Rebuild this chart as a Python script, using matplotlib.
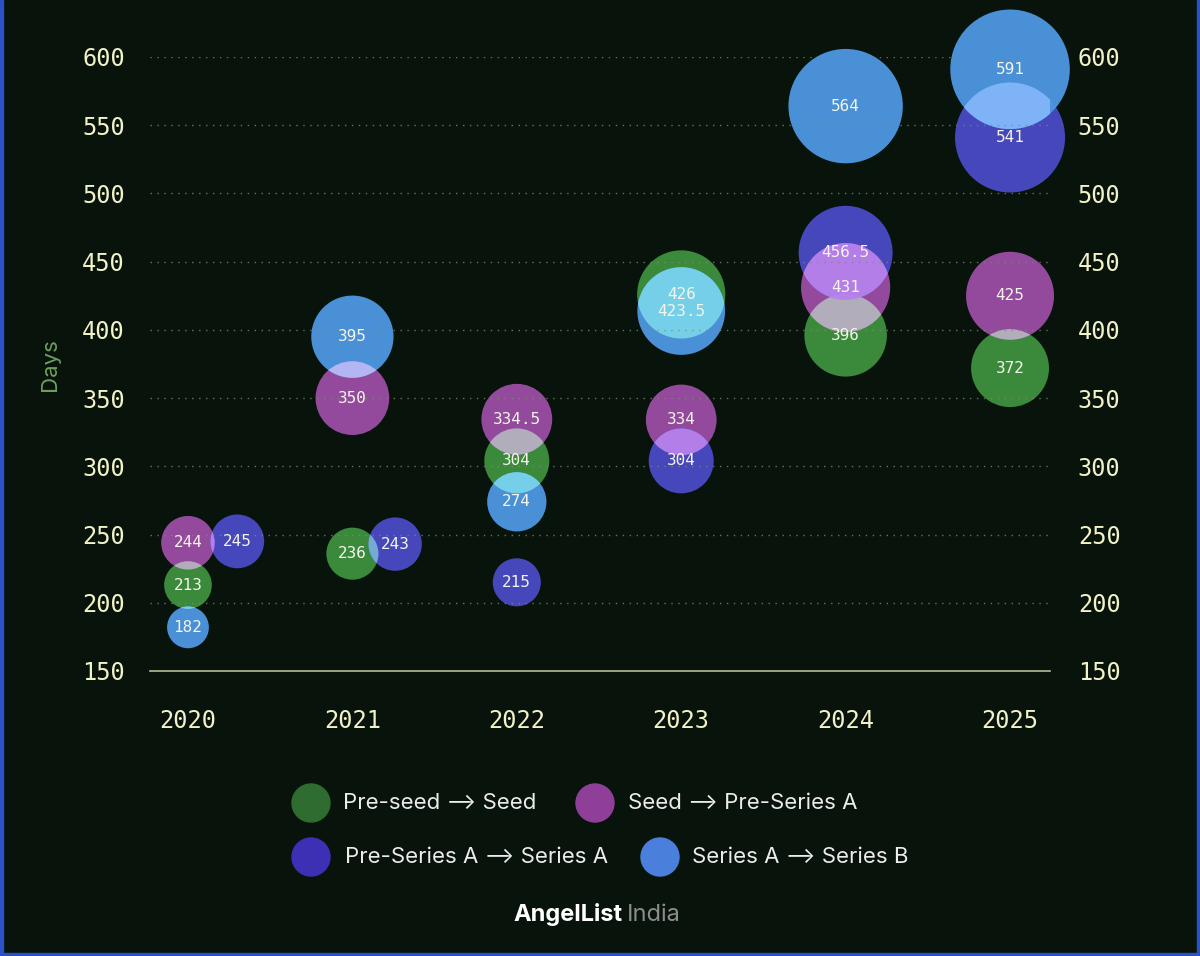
import matplotlib.pyplot as plt
from matplotlib.patches import Circle, Ellipse, Rectangle
from matplotlib.transforms import ScaledTranslation
from matplotlib.colors import to_rgb

years = ["2020", "2021", "2022", "2023", "2024", "2025"]

series_names = [
    "Pre-seed \u27f6 Seed",
    "Seed \u27f6 Pre-Series A",
    "Pre-Series A \u27f6 Series A",
    "Series A \u27f6 Series B",
]
preseed_seed = [213, 236, 304, 426, 396, 372]
seed_pre_a = [244, 350, 334.5, 334, 431, 425]
pre_a_a = [245, 243, 215, 304, 456.5, 541]
a_b = [182, 395, 274, 423.5, 564, 591]
series_values = [preseed_seed, seed_pre_a, pre_a_a, a_b]

y_ticks = [150, 200, 250, 300, 350, 400, 450, 500, 550, 600]

bubble_colors = ["#3e913f", "#9c4ea6", "#4a4ac6", "#4e98e2"]
legend_colors = ["#2f6c2f", "#8f3f98", "#3d30b4", "#4a80dc"]

# horizontal nudges (year units) and vertical nudges (points) so bubbles don't stack exactly
x_nudge = {(2, 0): 0.30, (2, 1): 0.26}
y_nudge = {(3, 3): -9.5}

bg = "#08130b"
tick_color = "#f2f2c8"
mono = ["DejaVu Sans Mono"]
sans = ["Inter", "DejaVu Sans"]

fig = plt.figure(figsize=(12, 9.56), dpi=100, facecolor=bg)
ax = fig.add_axes([0.125, 1 - 671 / 956, 0.75, (671 - 57) / 956])
ax.set_facecolor(bg)
ax.set_xlim(-0.231, 5.243)
ax.set_ylim(150, 600)


def bubble(x, v, dy=0, **kw):
    # radius in inches, centred on the data point (dy in points)
    r_in = (v + 38) * 0.095 / 100
    tr = fig.dpi_scale_trans + ScaledTranslation(x, v, ax.transData)
    return Circle((0, dy / 72), r_in, transform=tr, **kw)


def screen(c1, c2):
    a, b = to_rgb(c1), to_rgb(c2)
    return tuple(1 - (1 - p) * (1 - q) for p, q in zip(a, b))


for i in range(len(years)):
    pts = []
    for si, vals in enumerate(series_values):
        x = i + x_nudge.get((si, i), 0)
        v = vals[i]
        dy = y_nudge.get((si, i), 0)
        ax.add_patch(bubble(x, v, dy, facecolor=bubble_colors[si], edgecolor="none",
                            alpha=0.95, zorder=2, clip_on=False))
        pts.append((si, x, v, dy))
    # screen-blend look where bubbles overlap
    for a in range(len(pts)):
        for b in range(a + 1, len(pts)):
            sa, xa, va, dya = pts[a]
            sb, xb, vb, dyb = pts[b]
            clip = bubble(xa, va, dya, facecolor="none", edgecolor="none")
            ax.add_patch(clip)
            clip.set_visible(False)
            ov = bubble(xb, vb, dyb, facecolor=screen(bubble_colors[sa], bubble_colors[sb]),
                        edgecolor="none", alpha=0.95, zorder=2.5, clip_on=True)
            ax.add_patch(ov)
            ov.set_clip_path(clip)
    for si, x, v, dy in pts:
        ax.annotate(f"{v:g}", (x, v), xytext=(0, dy),
                    textcoords="offset points", ha="center", va="center",
                    fontsize=11.5, family=mono, color="#f4f4ea", zorder=5,
                    annotation_clip=False)

ax.set_yticks(y_ticks)
ax.set_xticks(range(len(years)))
ax.set_xticklabels(years)

for y in y_ticks[1:]:
    ax.axhline(y, color="#7c8a72", linestyle=(0, (1, 4)), linewidth=1.0, alpha=0.8, zorder=3)

for side in ["top", "right", "left"]:
    ax.spines[side].set_visible(False)
ax.spines["bottom"].set_color("#b4bc98")
ax.spines["bottom"].set_linewidth(1.2)

ax.tick_params(axis="both", length=0, labelcolor=tick_color, labelsize=17)
ax.tick_params(axis="y", pad=18)
ax.tick_params(axis="x", pad=27)
for lbl in ax.get_xticklabels() + ax.get_yticklabels():
    lbl.set_family(mono)

ax2 = ax.twinx()
ax2.set_ylim(150, 600)
ax2.set_yticks(y_ticks)
ax2.tick_params(axis="y", length=0, labelcolor=tick_color, labelsize=17, pad=20)
for lbl in ax2.get_yticklabels():
    lbl.set_family(mono)
for side in ["top", "right", "left", "bottom"]:
    ax2.spines[side].set_visible(False)

fig.text(50 / 1200, 1 - 365 / 956, "Days", rotation=90, ha="center", va="center",
         fontsize=16, color="#6f9e5f", family=sans)

# legend
legend_pos = [(311, 803, 343), (595, 803, 628), (311, 857, 345), (660, 857, 692)]
for k, (cx, cy, tx) in enumerate(legend_pos):
    fig.patches.append(Ellipse((cx / 1200, 1 - cy / 956), 38 / 1200, 38 / 956,
                               transform=fig.transFigure, color=legend_colors[k]))
    fig.text(tx / 1200, 1 - cy / 956, series_names[k], ha="left", va="center",
             fontsize=16, color="#ececec", family=sans)

fig.text(623 / 1200, 1 - 915 / 956, "AngelList", ha="right", va="center",
         fontsize=17, fontweight="bold", color="#ffffff", family=sans)
fig.text(627 / 1200, 1 - 915 / 956, "India", ha="left", va="center",
         fontsize=17, color="#8c8c8c", family=sans)

# blue frame on left, right and bottom
frame = "#2a52c6"
fig.patches.append(Rectangle((0, 0), 3 / 1200, 1, transform=fig.transFigure, color=frame))
fig.patches.append(Rectangle((1 - 3 / 1200, 0), 3 / 1200, 1, transform=fig.transFigure, color=frame))
fig.patches.append(Rectangle((0, 0), 1, 3 / 956, transform=fig.transFigure, color=frame))

fig.savefig("out.png", dpi=100, facecolor=bg)
